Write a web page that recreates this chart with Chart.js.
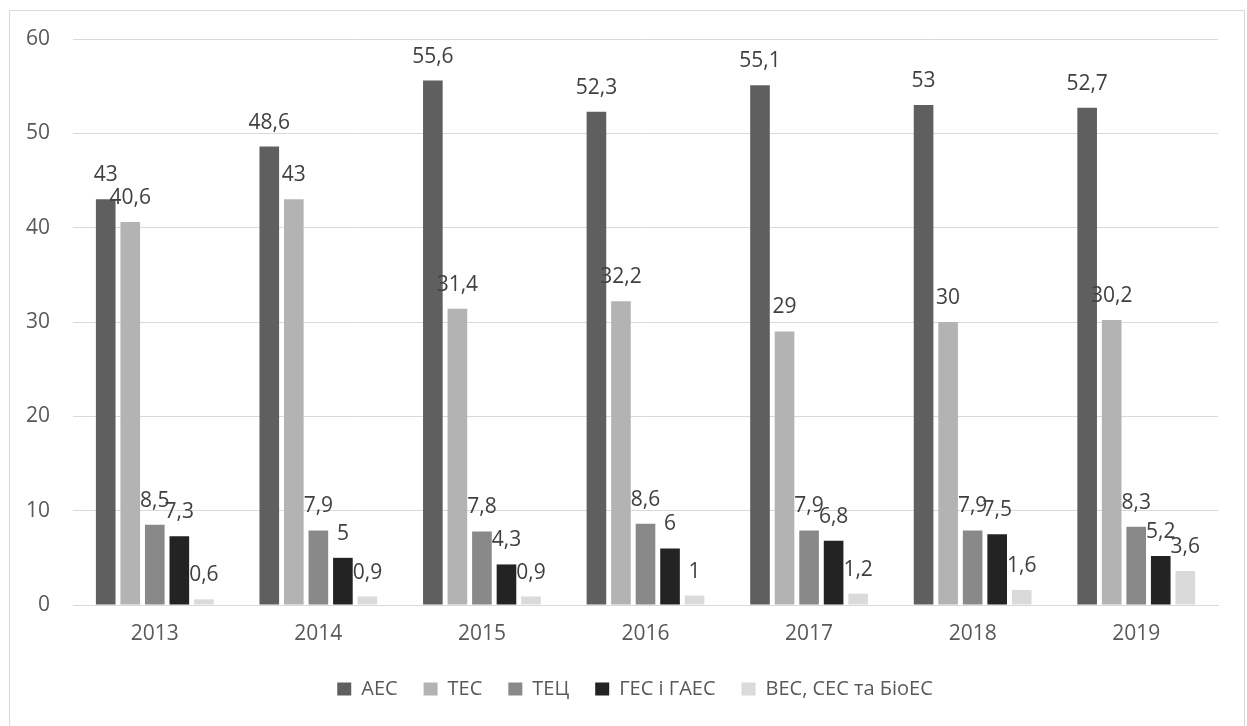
<!DOCTYPE html>
<html>
<head>
<meta charset="utf-8">
<script src="https://cdn.jsdelivr.net/npm/chart.js@4.4.1/dist/chart.umd.min.js"></script>
<style>
  html, body { margin: 0; padding: 0; background: #ffffff; overflow: hidden; }
  #wrap { position: relative; width: 1247px; height: 726px; }
  #frame { position: absolute; left: 9px; top: 10px; width: 1236px; height: 730px; border: 1px solid #d9d9d9; box-sizing: border-box; pointer-events: none; }
  canvas { position: absolute; left: 0; top: 0; }
</style>
</head>
<body>
<div id="wrap">
  <canvas id="chart" width="1247" height="726"></canvas>
  <div id="frame"></div>
</div>
<script>
// Electricity generation share by plant type, %, 2013–2019
const years = ['2013', '2014', '2015', '2016', '2017', '2018', '2019'];
const seriesNames = ['АЕС', 'ТЕС', 'ТЕЦ', 'ГЕС і ГАЕС', 'ВЕС, СЕС та БіоЕС'];
const aes  = [43, 48.6, 55.6, 52.3, 55.1, 53, 52.7];
const tes  = [40.6, 43, 31.4, 32.2, 29, 30, 30.2];
const tec  = [8.5, 7.9, 7.8, 8.6, 7.9, 7.9, 8.3];
const ges  = [7.3, 5, 4.3, 6, 6.8, 7.5, 5.2];
const ves  = [0.6, 0.9, 0.9, 1, 1.2, 1.6, 3.6];
const yTicks = [0, 10, 20, 30, 40, 50, 60];

const seriesValues = [aes, tes, tec, ges, ves];
const seriesColors = ['#5f5f5f', '#b3b3b3', '#898989', '#232323', '#dadada'];

const FONT = '"Open Sans", "DejaVu Sans", sans-serif';
const TEXT = '#595959';

// Value labels above each bar, decimal comma
const valueLabels = {
  id: 'valueLabels',
  afterDatasetsDraw(chart) {
    const ctx = chart.ctx;
    ctx.save();
    ctx.font = '21px ' + FONT;
    ctx.fillStyle = '#404040';
    ctx.textAlign = 'center';
    ctx.textBaseline = 'alphabetic';
    chart.data.datasets.forEach((ds, i) => {
      const meta = chart.getDatasetMeta(i);
      meta.data.forEach((bar, j) => {
        const txt = String(ds.data[j]).replace('.', ',');
        ctx.fillText(txt, bar.x, bar.y - 18);
      });
    });
    ctx.restore();
  }
};

// Centre the legend row under the plot rather than the whole canvas
const legendOffset = {
  id: 'legendOffset',
  afterLayout(chart) {
    const lg = chart.legend;
    if (lg) { lg.left += 26; lg.right += 26; }
  }
};

new Chart(document.getElementById('chart'), {
  type: 'bar',
  data: {
    labels: years,
    datasets: seriesNames.map((name, i) => ({
      label: name,
      data: seriesValues[i],
      backgroundColor: seriesColors[i],
      borderWidth: 0,
      categoryPercentage: 0.75,
      barPercentage: 0.8
    }))
  },
  options: {
    responsive: false,
    animation: false,
    devicePixelRatio: 1,
    layout: { padding: { left: 0, right: 29, top: 39, bottom: 17 } },
    plugins: {
      tooltip: { enabled: false },
      legend: {
        position: 'bottom',
        labels: {
          boxWidth: 14,
          boxHeight: 13,
          padding: 26,
          color: TEXT,
          font: { family: FONT, size: 20 }
        }
      }
    },
    scales: {
      x: {
        grid: { display: false, drawTicks: false },
        border: { display: true, color: '#d9d9d9', width: 1 },
        ticks: { color: TEXT, font: { family: FONT, size: 21 }, padding: 16 },
        afterFit(scale) { scale.height = 48; }
      },
      y: {
        min: 0,
        max: 60,
        afterBuildTicks(scale) { scale.ticks = yTicks.map(v => ({ value: v })); },
        grid: { color: '#d9d9d9', lineWidth: 1, drawTicks: false },
        border: { display: false },
        ticks: { color: TEXT, font: { family: FONT, size: 21 }, padding: 23 },
        afterFit(scale) { scale.width = 73; }
      }
    }
  },
  plugins: [valueLabels, legendOffset]
});
</script>
</body>
</html>
